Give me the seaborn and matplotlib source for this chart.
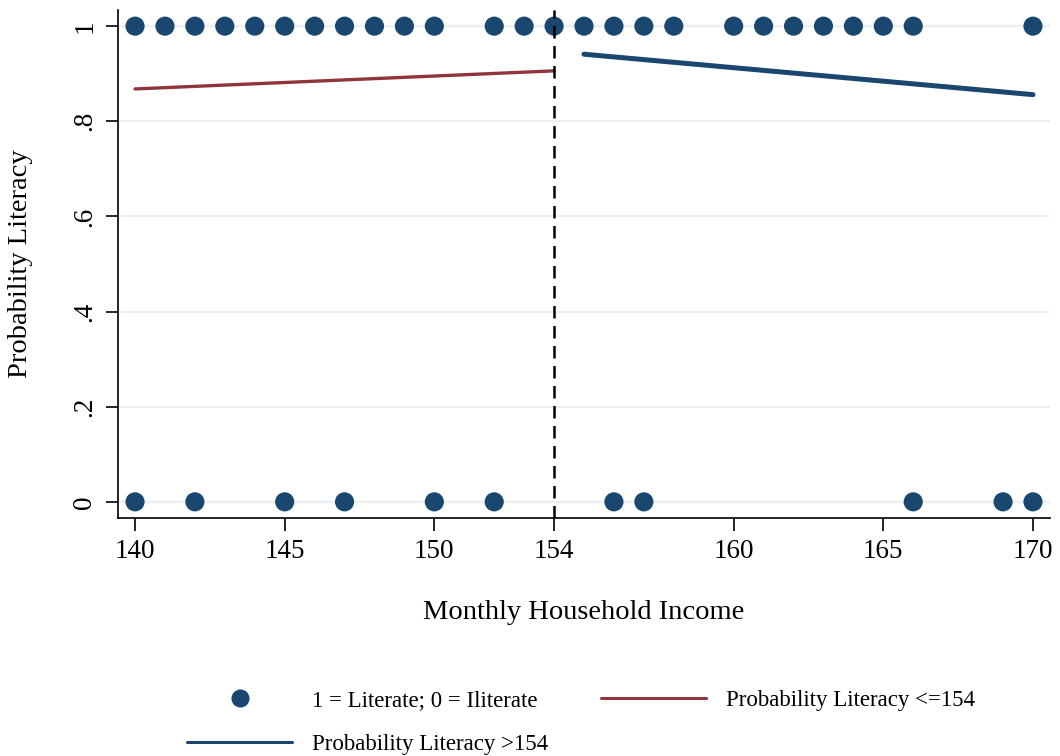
import numpy as np
import pandas as pd
import matplotlib
matplotlib.use("Agg")
import matplotlib.pyplot as plt
import seaborn as sns
from matplotlib.lines import Line2D

# Observed outcomes
income_literate = [140, 141, 142, 143, 144, 145, 146, 147, 148, 149, 150,
                   152, 153, 154, 155, 156, 157, 158,
                   160, 161, 162, 163, 164, 165, 166, 170]
income_illiterate = [140, 142, 145, 147, 150, 152, 156, 157, 166, 169, 170]

# Fitted probabilities
left_x = [140, 154]
left_p = [0.868, 0.906]
right_x = [155, 170]
right_p = [0.941, 0.856]

cutoff = 154
xticks = [140, 145, 150, 154, 160, 165, 170]
yticks = [0, 0.2, 0.4, 0.6, 0.8, 1.0]
ytick_labels = ["0", ".2", ".4", ".6", ".8", "1"]

navy = "#1a476f"
maroon = "#90353b"

sns.set_theme(style="white")
plt.rcParams['font.family'] = ['Liberation Serif', 'DejaVu Serif']
plt.rcParams['text.color'] = 'black'
plt.rcParams['axes.labelcolor'] = 'black'
plt.rcParams['xtick.color'] = 'black'
plt.rcParams['ytick.color'] = 'black'

pts = pd.DataFrame({
    "income": income_literate + income_illiterate,
    "lit": [1] * len(income_literate) + [0] * len(income_illiterate),
})
left = pd.DataFrame({"income": left_x, "p": left_p})
right = pd.DataFrame({"income": right_x, "p": right_p})

fig = plt.figure(figsize=(10.6, 7.56), dpi=100)
ax = fig.add_axes([0.1113, 0.3148, 0.8793, 0.672])

for yv in yticks:
    ax.axhline(yv, color="#eaf0f2", lw=1.6, zorder=0)

sns.scatterplot(data=pts, x="income", y="lit", ax=ax, color=navy, s=190,
                edgecolor="none", zorder=3, legend=False)
sns.lineplot(data=left, x="income", y="p", ax=ax, color=maroon, lw=2.4, zorder=2)
sns.lineplot(data=right, x="income", y="p", ax=ax, color=navy, lw=3.6, zorder=2)
ax.axvline(cutoff, color="black", lw=1.8, ls=(0, (5, 3)), zorder=4)

ax.set_xlim(139.43, 170.57)
ax.set_ylim(-0.034, 1.034)
ax.set_xticks(xticks)
ax.set_xticklabels([str(v) for v in xticks], fontsize=19.5)
ax.set_yticks(yticks)
ax.set_yticklabels(ytick_labels, fontsize=19.5, rotation=90, va="center")
ax.tick_params(axis="both", direction="out", length=9, width=1.2, color="black",
               bottom=True, left=True, pad=6)
for s in ["top", "right"]:
    ax.spines[s].set_visible(False)
for s in ["left", "bottom"]:
    ax.spines[s].set_color("black")
    ax.spines[s].set_linewidth(1.2)

ax.set_xlabel("Monthly Household Income", fontsize=20.5, labelpad=26)
ax.set_ylabel("Probability Literacy", fontsize=20.5, labelpad=28)

handles = [
    Line2D([], [], marker="o", ls="none", color=navy, markersize=12),
    Line2D([], [], color=navy, lw=2.2),
    Line2D([], [], color=maroon, lw=2.2),
]
labels = ["1 = Literate; 0 = Iliterate", "Probability Literacy >154",
          "Probability Literacy <=154"]
fig.legend(handles, labels, loc="upper center", bbox_to_anchor=(0.548, 0.115),
           ncol=2, frameon=False, fontsize=16.5, handlelength=4.6,
           handletextpad=0.85, columnspacing=2.3, labelspacing=1.0)

fig.savefig("out.png", dpi=100, facecolor="white")
